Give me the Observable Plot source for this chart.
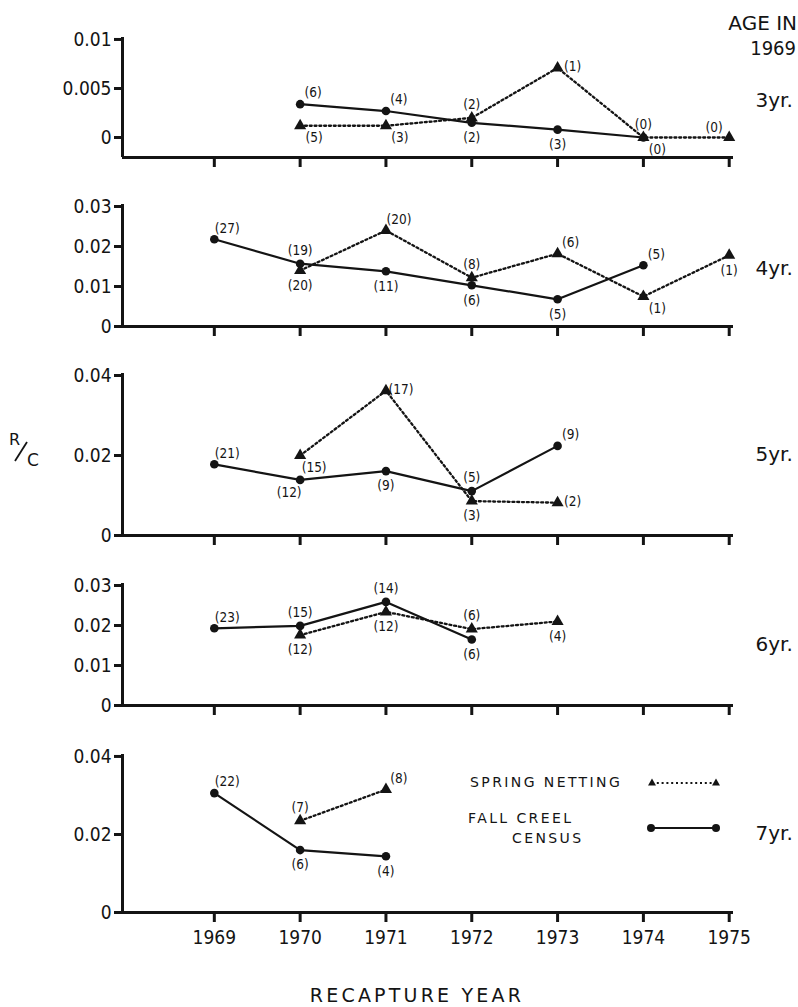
<!DOCTYPE html>
<html><head><meta charset="utf-8">
<script src="https://cdn.jsdelivr.net/npm/d3@7"></script>
<script src="https://cdn.jsdelivr.net/npm/@observablehq/plot@0.6"></script>
<style>
body{margin:0;background:#fff;}
#chart{position:relative;width:798px;height:1007px;overflow:hidden;background:#fff;color:#111;font-family:"DejaVu Sans",sans-serif;}
#chart .panel{position:absolute;left:0;}
</style></head>
<body><div id="chart"></div>
<script>
// ---------- data ----------
const years = [1969, 1970, 1971, 1972, 1973, 1974, 1975];
const ageLabels = ["3yr.", "4yr.", "5yr.", "6yr.", "7yr."];

// 3 yr. in 1969
const fall3Years = [1970, 1971, 1972, 1973, 1974];
const fall3RC = [0.0034, 0.0027, 0.0015, 0.0008, 0];
const fall3N = [6, 4, 2, 3, 0];
const fall3Place = ["ne", "ne", "s", "s", "se"];
const spring3Years = [1970, 1971, 1972, 1973, 1974, 1975];
const spring3RC = [0.0012, 0.0012, 0.002, 0.0071, 0, 0];
const spring3N = [5, 3, 2, 1, 0, 0];
const spring3Place = ["se", "se", "n", "e", "n", "nw"];
const ticks3 = [0, 0.005, 0.01];

// 4 yr.
const fall4Years = [1969, 1970, 1971, 1972, 1973, 1974];
const fall4RC = [0.0218, 0.0157, 0.0138, 0.0103, 0.0068, 0.0153];
const fall4N = [27, 19, 11, 6, 5, 5];
const fall4Place = ["ne", "n", "s", "s", "s", "ne"];
const spring4Years = [1970, 1971, 1972, 1973, 1974, 1975];
const spring4RC = [0.014, 0.024, 0.0122, 0.0182, 0.0075, 0.0178];
const spring4N = [20, 20, 8, 6, 1, 1];
const spring4Place = ["s", "ne", "n", "ne", "se", "s"];
const ticks4 = [0, 0.01, 0.02, 0.03];

// 5 yr.
const fall5Years = [1969, 1970, 1971, 1972, 1973];
const fall5RC = [0.0178, 0.0139, 0.0161, 0.0111, 0.0224];
const fall5N = [21, 12, 9, 5, 9];
const fall5Place = ["ne", "sw", "s", "n", "ne"];
const spring5Years = [1970, 1971, 1972, 1973];
const spring5RC = [0.02, 0.0362, 0.0086, 0.0082];
const spring5N = [15, 17, 3, 2];
const spring5Place = ["se", "e", "s", "e"];
const ticks5 = [0, 0.02, 0.04];

// 6 yr.
const fall6Years = [1969, 1970, 1971, 1972];
const fall6RC = [0.0193, 0.0199, 0.0259, 0.0165];
const fall6N = [23, 15, 14, 6];
const fall6Place = ["ne", "n", "n", "s"];
const spring6Years = [1970, 1971, 1972, 1973];
const spring6RC = [0.0176, 0.0234, 0.0191, 0.021];
const spring6N = [12, 12, 6, 4];
const spring6Place = ["s", "s", "n", "s"];
const ticks6 = [0, 0.01, 0.02, 0.03];

// 7 yr.
const fall7Years = [1969, 1970, 1971];
const fall7RC = [0.0306, 0.016, 0.0144];
const fall7N = [22, 6, 4];
const fall7Place = ["ne", "s", "s"];
const spring7Years = [1970, 1971];
const spring7RC = [0.0235, 0.0315];
const spring7N = [7, 8];
const spring7Place = ["n", "ne"];
const ticks7 = [0, 0.02, 0.04];

const legendLabels = ["SPRING NETTING", "FALL CREEL", "CENSUS"];

// ---------- helpers ----------
const ink = "#141414";
const rowsOf = (ys, vals, ns, places) => ys.map((year, i) => ({year, rc: vals[i], n: ns[i], place: places[i]}));
const offsets = {n: [0, -13], s: [0, 15], ne: [13, -11], se: [14, 12], e: [15, -1], sw: [-11, 13], nw: [-15, -10]};

function labelMarks(rows) {
  return Object.entries(offsets).map(([code, [dx, dy]]) =>
    Plot.text(rows.filter(r => r.place === code), {
      x: "year", y: "rc", text: r => `(${r.n})`, dx, dy,
      fontSize: 13.5, fontFamily: "DejaVu Sans Condensed", fill: ink
    }));
}

const xDomain = [1967.93, 1975.05];
const chart = document.getElementById("chart");

function panel({frameTop, frameBottom, yDomain, ticks, fall, spring, age, ageDy, last}) {
  const mTop = 10, mBottom = last ? 44 : 14;
  const plot = Plot.plot({
    width: 798,
    height: mTop + (frameBottom - frameTop) + mBottom,
    marginLeft: 122, marginRight: 65, marginTop: mTop, marginBottom: mBottom,
    x: {domain: xDomain},
    y: {domain: yDomain},
    style: {background: "transparent", fontFamily: "DejaVu Sans Condensed", fontSize: "19px", color: ink, overflow: "visible"},
    marks: [
      Plot.ruleX([xDomain[0]], {stroke: ink, strokeWidth: 3}),
      Plot.ruleY([yDomain[0]], {stroke: ink, strokeWidth: 3}),
      Plot.axisY(ticks, {tickSize: 8, tickPadding: 3, strokeWidth: 3, stroke: ink, fill: ink,
        tickFormat: d => String(d), label: null, fontSize: 19}),
      Plot.axisX(years, {tickSize: 10, tickPadding: 8, strokeWidth: 3, stroke: ink, fill: ink,
        tickFormat: last ? d => String(d) : () => "", label: null, fontSize: 19}),
      Plot.line(spring, {x: "year", y: "rc", stroke: ink, strokeWidth: 2.3, strokeDasharray: "2,2.8"}),
      Plot.line(fall, {x: "year", y: "rc", stroke: ink, strokeWidth: 2.2}),
      Plot.dot(spring, {x: "year", y: "rc", symbol: "triangle", r: 4.5, fill: ink, stroke: "none"}),
      Plot.dot(fall, {x: "year", y: "rc", r: 4.3, fill: ink, stroke: "none"}),
      ...labelMarks(fall),
      ...labelMarks(spring),
      Plot.text([age], {text: d => d, frameAnchor: "right", dx: 22, dy: ageDy, textAnchor: "start",
        fontSize: 20, fontFamily: "DejaVu Sans", fill: ink})
    ]
  });
  plot.classList.add("panel");
  plot.style.top = (frameTop - mTop) + "px";
  chart.appendChild(plot);
}

panel({frameTop: 37, frameBottom: 157, yDomain: [-0.00204, 0.0102], ticks: ticks3,
  fall: rowsOf(fall3Years, fall3RC, fall3N, fall3Place),
  spring: rowsOf(spring3Years, spring3RC, spring3N, spring3Place), age: ageLabels[0], ageDy: 3});
panel({frameTop: 204, frameBottom: 326, yDomain: [0, 0.0305], ticks: ticks4,
  fall: rowsOf(fall4Years, fall4RC, fall4N, fall4Place),
  spring: rowsOf(spring4Years, spring4RC, spring4N, spring4Place), age: ageLabels[1], ageDy: 3});
panel({frameTop: 373, frameBottom: 535, yDomain: [0, 0.0405], ticks: ticks5,
  fall: rowsOf(fall5Years, fall5RC, fall5N, fall5Place),
  spring: rowsOf(spring5Years, spring5RC, spring5N, spring5Place), age: ageLabels[2], ageDy: 0});
panel({frameTop: 583, frameBottom: 705, yDomain: [0, 0.0305], ticks: ticks6,
  fall: rowsOf(fall6Years, fall6RC, fall6N, fall6Place),
  spring: rowsOf(spring6Years, spring6RC, spring6N, spring6Place), age: ageLabels[3], ageDy: 0});
panel({frameTop: 754, frameBottom: 912, yDomain: [0, 0.0405], ticks: ticks7,
  fall: rowsOf(fall7Years, fall7RC, fall7N, fall7Place),
  spring: rowsOf(spring7Years, spring7RC, spring7N, spring7Place), age: ageLabels[4], ageDy: 0, last: true});

// ---------- annotations (header, axis titles, legend) ----------
const svgNS = "http://www.w3.org/2000/svg";
const over = document.createElementNS(svgNS, "svg");
over.setAttribute("width", 798); over.setAttribute("height", 1007);
over.style.position = "absolute"; over.style.left = "0"; over.style.top = "0";
over.innerHTML = `
  <g fill="${ink}" font-family="DejaVu Sans">
    <text x="797" y="30" text-anchor="end" font-size="20">AGE IN</text>
    <text x="796" y="55" text-anchor="end" font-size="20" font-family="DejaVu Sans Condensed">1969</text>
    <text x="417" y="1002" text-anchor="middle" font-size="19" letter-spacing="3.2">RECAPTURE YEAR</text>
    <text x="9" y="445" font-size="16">R</text>
    <line x1="15" y1="461" x2="27" y2="442" stroke="${ink}" stroke-width="1.8"/>
    <text x="27" y="466" font-size="17">C</text>
    <text x="470" y="787" font-size="14" letter-spacing="2.4">${legendLabels[0]}</text>
    <text x="468" y="823" font-size="14" letter-spacing="2.4">${legendLabels[1]}</text>
    <text x="512" y="843" font-size="14" letter-spacing="2.4">${legendLabels[2]}</text>
    <line x1="652" y1="783" x2="716" y2="783" stroke="${ink}" stroke-width="2" stroke-dasharray="2,2.8"/>
    <path d="M652,778.5 L656,785.5 L648,785.5 Z"/>
    <path d="M716,778.5 L720,785.5 L712,785.5 Z"/>
    <line x1="651" y1="828" x2="716" y2="828" stroke="${ink}" stroke-width="2"/>
    <circle cx="651" cy="828" r="4"/>
    <circle cx="716" cy="828" r="4"/>
  </g>`;
chart.appendChild(over);
</script>
</body></html>
